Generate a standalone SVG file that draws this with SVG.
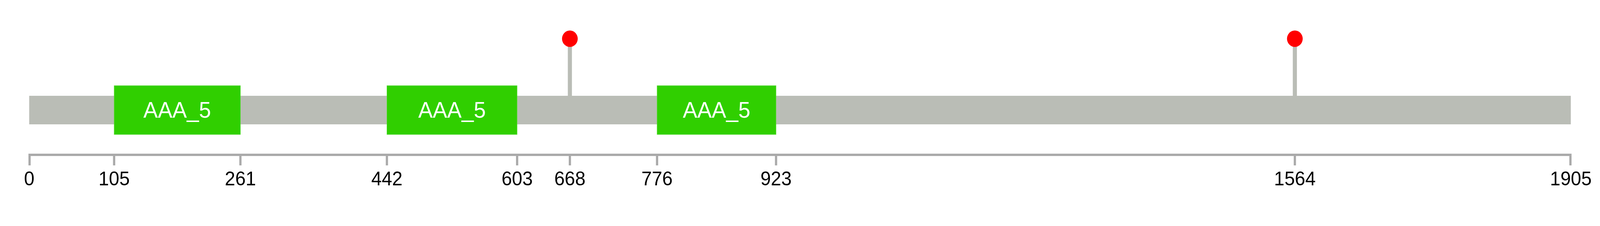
<svg xmlns="http://www.w3.org/2000/svg" width="4276" height="578" viewBox="0 0 4276 578">
<style>
.bar{fill:#BABDB6}
.dom{fill:#30CF00;stroke:#5EDC3C;stroke-width:1}
.dlab{font-family:"Liberation Sans",Arial,sans-serif;font-size:58px;fill:#FFFFFF;text-anchor:middle}
.stem{stroke:#BABDB6;stroke-width:11}
.dot{fill:#FF0000}
.axis{stroke:#AAAAAA;stroke-width:6;fill:none}
.tlab{font-family:"Liberation Sans",Arial,sans-serif;font-size:50px;fill:#000000;text-anchor:middle}
</style>
<rect width="4276" height="578" fill="#FFFFFF"/>
<g id="diagram" transform="scale(0.957904 1)">
<g id="protein">
<rect class="bar" x="78" y="245" width="4120" height="73"/>
</g>
<g id="connectors">
<line class="stem" x1="1523" y1="245" x2="1523" y2="99"/>
<line class="stem" x1="3460.5" y1="245" x2="3460.5" y2="99"/>
</g>
<g id="domain1">
<rect class="dom" x="305" y="219" width="337.5" height="125"/>
<text class="dlab" x="473.5" y="301">AAA_5</text>
</g>
<g id="domain2">
<rect class="dom" x="1034" y="219" width="348" height="125"/>
<text class="dlab" x="1208" y="301">AAA_5</text>
</g>
<g id="domain3">
<rect class="dom" x="1756" y="219" width="318" height="125"/>
<text class="dlab" x="1915" y="301">AAA_5</text>
</g>
<g id="site668">
<circle class="dot" cx="1523" cy="99" r="21"/>
</g>
<g id="site1564">
<circle class="dot" cx="3460.5" cy="99" r="21"/>
</g>
<g id="axis">
<path class="axis" d="M79 423 V396 H4197 V423"/>
<line class="axis" x1="305" y1="396" x2="305" y2="423"/>
<line class="axis" x1="642.5" y1="396" x2="642.5" y2="423"/>
<line class="axis" x1="1034" y1="396" x2="1034" y2="423"/>
<line class="axis" x1="1382" y1="396" x2="1382" y2="423"/>
<line class="axis" x1="1523" y1="396" x2="1523" y2="423"/>
<line class="axis" x1="1756" y1="396" x2="1756" y2="423"/>
<line class="axis" x1="2074" y1="396" x2="2074" y2="423"/>
<line class="axis" x1="3460.5" y1="396" x2="3460.5" y2="423"/>
<text class="tlab" x="78" y="474">0</text>
<text class="tlab" x="305" y="474">105</text>
<text class="tlab" x="642.5" y="474">261</text>
<text class="tlab" x="1034" y="474">442</text>
<text class="tlab" x="1382" y="474">603</text>
<text class="tlab" x="1523" y="474">668</text>
<text class="tlab" x="1756" y="474">776</text>
<text class="tlab" x="2074" y="474">923</text>
<text class="tlab" x="3460.5" y="474">1564</text>
<text class="tlab" x="4198" y="474">1905</text>
</g>
</g>
</svg>
